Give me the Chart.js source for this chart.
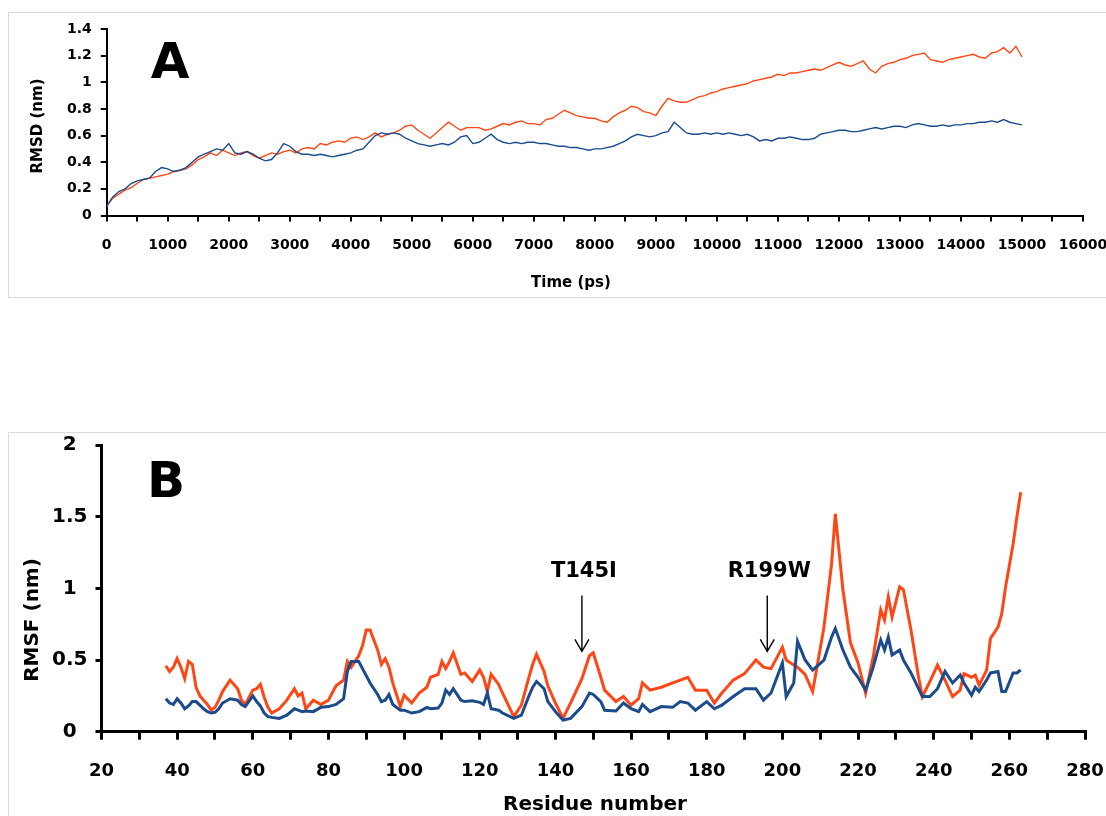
<!DOCTYPE html>
<html>
<head>
<meta charset="utf-8">
<script src="https://cdn.jsdelivr.net/npm/chart.js@4.4.1/dist/chart.umd.min.js"></script>
<style>
  html, body { margin: 0; padding: 0; background: #fff; overflow: hidden; }
  body { width: 1106px; height: 816px; position: relative; }
  .frame { position: absolute; border: 1px solid #dcdcdc; }
  canvas { position: absolute; left: 0; }
</style>
</head>
<body>
<div class="frame" style="left:8px; top:12px; width:1200px; height:284px"></div>
<div class="frame" style="left:8px; top:432px; width:1200px; height:500px"></div>
<canvas id="rmsd" width="1140" height="300" style="top:0"></canvas>
<canvas id="rmsf" width="1140" height="384" style="top:432px"></canvas>
<script>
// panel A: RMSD (nm) sampled every 100 ps, 0..15000
const timeStep = 100
const rmsdOrange = [
  0.07, 0.13, 0.16, 0.19, 0.21, 0.24, 0.27, 0.28, 0.29, 0.30,
  0.31, 0.33, 0.34, 0.35, 0.38, 0.42, 0.44, 0.47, 0.45, 0.49,
  0.47, 0.45, 0.47, 0.48, 0.45, 0.43, 0.45, 0.47, 0.46, 0.48,
  0.49, 0.47, 0.50, 0.51, 0.50, 0.54, 0.53, 0.55, 0.56, 0.55,
  0.58, 0.59, 0.57, 0.59, 0.62, 0.59, 0.61, 0.62, 0.64, 0.67,
  0.68, 0.64, 0.61, 0.58, 0.62, 0.66, 0.70, 0.67, 0.64, 0.66,
  0.66, 0.66, 0.64, 0.65, 0.67, 0.69, 0.68, 0.70, 0.71, 0.69,
  0.69, 0.68, 0.72, 0.73, 0.76, 0.79, 0.77, 0.75, 0.74, 0.73,
  0.73, 0.71, 0.70, 0.74, 0.77, 0.79, 0.82, 0.81, 0.78, 0.77,
  0.75, 0.82, 0.88, 0.86, 0.85, 0.85, 0.87, 0.89, 0.90, 0.92,
  0.93, 0.95, 0.96, 0.97, 0.98, 0.99, 1.01, 1.02, 1.03, 1.04,
  1.06, 1.05, 1.07, 1.07, 1.08, 1.09, 1.10, 1.09, 1.11, 1.13,
  1.15, 1.13, 1.12, 1.14, 1.16, 1.10, 1.07, 1.12, 1.14, 1.15,
  1.17, 1.18, 1.20, 1.21, 1.22, 1.17, 1.16, 1.15, 1.17, 1.18,
  1.19, 1.20, 1.21, 1.19, 1.18, 1.22, 1.23, 1.26, 1.22, 1.27,
  1.19
]
const rmsdBlue = [
  0.07, 0.14, 0.18, 0.20, 0.24, 0.26, 0.27, 0.28, 0.33, 0.36,
  0.35, 0.33, 0.34, 0.36, 0.40, 0.44, 0.46, 0.48, 0.50, 0.49,
  0.54, 0.47, 0.46, 0.48, 0.46, 0.43, 0.41, 0.42, 0.47, 0.54,
  0.52, 0.48, 0.46, 0.46, 0.45, 0.46, 0.45, 0.44, 0.45, 0.46,
  0.47, 0.49, 0.50, 0.55, 0.60, 0.62, 0.61, 0.62, 0.61, 0.58,
  0.56, 0.54, 0.53, 0.52, 0.53, 0.54, 0.53, 0.55, 0.59, 0.60,
  0.54, 0.55, 0.58, 0.61, 0.57, 0.55, 0.54, 0.55, 0.54, 0.55,
  0.55, 0.54, 0.54, 0.53, 0.52, 0.52, 0.51, 0.51, 0.50, 0.49,
  0.50, 0.50, 0.51, 0.52, 0.54, 0.56, 0.59, 0.61, 0.60, 0.59,
  0.60, 0.62, 0.63, 0.70, 0.66, 0.62, 0.61, 0.61, 0.62, 0.61,
  0.62, 0.61, 0.62, 0.61, 0.60, 0.61, 0.59, 0.56, 0.57, 0.56,
  0.58, 0.58, 0.59, 0.58, 0.57, 0.57, 0.58, 0.61, 0.62, 0.63,
  0.64, 0.64, 0.63, 0.63, 0.64, 0.65, 0.66, 0.65, 0.66, 0.67,
  0.67, 0.66, 0.68, 0.69, 0.68, 0.67, 0.67, 0.68, 0.67, 0.68,
  0.68, 0.69, 0.69, 0.70, 0.70, 0.71, 0.70, 0.72, 0.70, 0.69,
  0.68
]
const times = rmsdOrange.map((v, i) => i * timeStep)

// panel B: RMSF (nm) per residue
const residues = [
  37, 38, 39, 40, 41, 42, 43, 44, 45, 46, 47, 48, 49, 50, 51, 52, 54, 56, 57, 58,
  60, 61, 62, 63, 64, 65, 67, 69, 71, 72, 73, 74, 76, 78, 80, 82, 84, 85, 86, 88,
  89, 90, 91, 93, 94, 95, 96, 97, 99, 100, 102, 104, 106, 107, 109, 110, 111, 112, 113, 115,
  116, 118, 120, 121, 122, 123, 125, 126, 129, 131, 133, 134, 135, 137, 138, 140, 142, 144, 147, 149,
  150, 152, 153, 156, 158, 160, 162, 163, 165, 168, 171, 173, 175, 177, 180, 182, 184, 187, 190, 193,
  195, 197, 200, 201, 203, 204, 206, 208, 211, 213, 214, 216, 218, 220, 222, 224, 226, 227, 228, 229,
  231, 232, 234, 236, 237, 239, 241, 243, 245, 247, 248, 250, 251, 252, 254, 255, 257, 258, 259, 261,
  262, 263
]
const rmsfOrange = [
  0.46, 0.42, 0.45, 0.51, 0.45, 0.37, 0.49, 0.47, 0.31, 0.25, 0.22, 0.19, 0.15, 0.17, 0.22, 0.28, 0.36, 0.30, 0.22, 0.19,
  0.29, 0.30, 0.33, 0.24, 0.17, 0.13, 0.16, 0.22, 0.30, 0.25, 0.27, 0.16, 0.22, 0.19, 0.22, 0.32, 0.36, 0.49, 0.45, 0.53,
  0.60, 0.71, 0.71, 0.57, 0.47, 0.51, 0.45, 0.34, 0.175, 0.255, 0.20, 0.27, 0.31, 0.38, 0.40, 0.49, 0.44, 0.49, 0.55, 0.40,
  0.41, 0.35, 0.43, 0.38, 0.28, 0.40, 0.33, 0.27, 0.105, 0.185, 0.38, 0.47, 0.54, 0.42, 0.32, 0.20, 0.093, 0.20, 0.37, 0.53,
  0.55, 0.38, 0.29, 0.21, 0.245, 0.185, 0.23, 0.34, 0.29, 0.31, 0.34, 0.36, 0.38, 0.29, 0.29, 0.20, 0.27, 0.36, 0.405, 0.50,
  0.45, 0.44, 0.59, 0.50, 0.465, 0.45, 0.40, 0.28, 0.73, 1.17, 1.52, 0.99, 0.62, 0.48, 0.27, 0.52, 0.85, 0.78, 0.94, 0.80,
  1.01, 0.99, 0.71, 0.38, 0.245, 0.35, 0.465, 0.36, 0.245, 0.29, 0.405, 0.38, 0.395, 0.325, 0.43, 0.65, 0.73, 0.825, 1.01, 1.31,
  1.50, 1.67
]
const rmsfBlue = [
  0.23, 0.20, 0.19, 0.23, 0.20, 0.16, 0.18, 0.21, 0.21, 0.185, 0.16, 0.14, 0.13, 0.135, 0.16, 0.20, 0.23, 0.22, 0.19, 0.175,
  0.25, 0.21, 0.18, 0.13, 0.105, 0.10, 0.093, 0.115, 0.16, 0.15, 0.14, 0.145, 0.14, 0.17, 0.175, 0.19, 0.23, 0.42, 0.49, 0.49,
  0.44, 0.39, 0.34, 0.26, 0.21, 0.22, 0.26, 0.19, 0.15, 0.15, 0.13, 0.14, 0.17, 0.16, 0.165, 0.20, 0.29, 0.26, 0.30, 0.22,
  0.21, 0.215, 0.205, 0.19, 0.27, 0.16, 0.15, 0.13, 0.093, 0.115, 0.25, 0.31, 0.35, 0.30, 0.21, 0.14, 0.081, 0.093, 0.175, 0.27,
  0.26, 0.21, 0.15, 0.145, 0.20, 0.16, 0.14, 0.19, 0.14, 0.175, 0.17, 0.21, 0.20, 0.15, 0.21, 0.16, 0.185, 0.245, 0.30, 0.30,
  0.22, 0.27, 0.48, 0.245, 0.34, 0.63, 0.50, 0.43, 0.50, 0.66, 0.72, 0.57, 0.45, 0.38, 0.29, 0.45, 0.64, 0.57, 0.66, 0.535,
  0.57, 0.50, 0.41, 0.30, 0.245, 0.245, 0.30, 0.42, 0.34, 0.395, 0.34, 0.255, 0.31, 0.28, 0.36, 0.41, 0.42, 0.28, 0.28, 0.41,
  0.41, 0.43
]

// arrows in panel B
const mutationLabels = ['T145I', 'R199W']
const mutationResidues = [147, 196]
const arrowTop = 0.95
const arrowTip = 0.56
const mutationLabelY = 1.115

const ORANGE = '#ff4716'
const BLUE = '#1b4b8a'
const FONT = 'DejaVu Sans'

const panelText = {
  id: 'panelText',
  afterDraw(chart, args, opts) {
    const ctx = chart.ctx
    ctx.save()
    ctx.fillStyle = '#000'
    ctx.strokeStyle = '#000'
    ctx.textAlign = 'center'
    ctx.textBaseline = 'middle'
    for (const t of opts.labels || []) {
      ctx.font = t.font
      ctx.save()
      ctx.translate(t.x, t.y)
      if (t.rotate) ctx.rotate(t.rotate)
      ctx.fillText(t.text, 0, 0)
      ctx.restore()
    }
    if (opts.arrows) {
      const xs = chart.scales.x
      const ys = chart.scales.y
      ctx.font = 'bold 21px ' + FONT
      ctx.lineWidth = 1.4
      mutationLabels.forEach((label, i) => {
        const x = xs.getPixelForValue(mutationResidues[i])
        ctx.fillText(label, x + 2, ys.getPixelForValue(mutationLabelY))
        const y0 = ys.getPixelForValue(arrowTop)
        const y1 = ys.getPixelForValue(arrowTip)
        ctx.beginPath()
        ctx.moveTo(x, y0)
        ctx.lineTo(x, y1)
        ctx.moveTo(x - 7, y1 - 12)
        ctx.lineTo(x, y1)
        ctx.lineTo(x + 7, y1 - 12)
        ctx.stroke()
      })
    }
    ctx.restore()
  }
}

function axisStyle(width, tickLen) {
  return {
    grid: { drawOnChartArea: false, drawTicks: true, tickLength: tickLen, color: '#000', lineWidth: width },
    border: { display: true, color: '#000', width: width }
  }
}

// fixed axis box sizes so the plot areas sit where they do in the figure
function fixWidth(w) {
  return (s) => { s.width = w; s.paddingTop = 0; s.paddingBottom = 0 }
}
function fixHeight(h) {
  return (s) => { s.height = h; s.paddingLeft = 0; s.paddingRight = 0 }
}

new Chart(document.getElementById('rmsd'), {
  type: 'line',
  data: {
    datasets: [
      {
        data: times.map((t, i) => ({ x: t, y: rmsdBlue[i] })),
        borderColor: BLUE, borderWidth: 1.4, pointRadius: 0
      },
      {
        data: times.map((t, i) => ({ x: t, y: rmsdOrange[i] })),
        borderColor: ORANGE, borderWidth: 1.4, pointRadius: 0
      }
    ]
  },
  options: {
    responsive: false,
    animation: false,
    layout: { padding: { left: 10, top: 29, right: 57, bottom: 0 } },
    plugins: {
      legend: { display: false },
      tooltip: { enabled: false },
      panelText: {
        labels: [
          { text: 'A', x: 170, y: 65, font: 'bold 50px ' + FONT },
          { text: 'RMSD (nm)', x: 38, y: 126, rotate: -Math.PI / 2, font: 'bold 15px ' + FONT },
          { text: 'Time (ps)', x: 571, y: 283, font: 'bold 15px ' + FONT }
        ]
      }
    },
    scales: {
      x: {
        type: 'linear', min: 0, max: 16000,
        afterFit: fixHeight(84.5),
        ticks: {
          stepSize: 500, autoSkip: false, maxRotation: 0, color: '#000', padding: 15,
          font: { family: FONT, weight: 'bold', size: 14 },
          callback: (v) => (v % 1000 === 0 ? String(v) : '')
        },
        ...axisStyle(2, 6)
      },
      y: {
        min: 0, max: 1.4,
        afterFit: fixWidth(96.7),
        ticks: {
          stepSize: 0.2, color: '#000', padding: 9,
          font: { family: FONT, weight: 'bold', size: 14 },
          callback: (v) => String(+v.toFixed(1))
        },
        ...axisStyle(2, 6)
      }
    }
  },
  plugins: [panelText]
})

new Chart(document.getElementById('rmsf'), {
  type: 'line',
  data: {
    datasets: [
      {
        data: residues.map((r, i) => ({ x: r, y: rmsfBlue[i] })),
        borderColor: BLUE, borderWidth: 3, pointRadius: 0
      },
      {
        data: residues.map((r, i) => ({ x: r, y: rmsfOrange[i] })),
        borderColor: ORANGE, borderWidth: 3, pointRadius: 0
      }
    ]
  },
  options: {
    responsive: false,
    animation: false,
    layout: { padding: { left: 10, top: 13, right: 55, bottom: 0 } },
    plugins: {
      legend: { display: false },
      tooltip: { enabled: false },
      panelText: {
        arrows: true,
        labels: [
          { text: 'B', x: 166, y: 52, font: 'bold 50px ' + FONT },
          { text: 'RMSF (nm)', x: 33, y: 188, rotate: -Math.PI / 2, font: 'bold 20px ' + FONT },
          { text: 'Residue number', x: 595, y: 373, font: 'bold 20px ' + FONT }
        ]
      }
    },
    scales: {
      x: {
        type: 'linear', min: 20, max: 280,
        afterFit: fixHeight(84.3),
        ticks: {
          stepSize: 10, autoSkip: false, maxRotation: 0, color: '#000', padding: 21,
          font: { family: FONT, weight: 'bold', size: 18 },
          callback: (v) => (v % 20 === 0 ? String(v) : '')
        },
        ...axisStyle(3, 8)
      },
      y: {
        min: 0, max: 2,
        afterFit: fixWidth(91.5),
        ticks: {
          stepSize: 0.5, color: '#000', padding: 8, crossAlign: 'center',
          font: { family: FONT, weight: 'bold', size: 20 },
          callback: (v) => String(+v.toFixed(1))
        },
        ...axisStyle(3, 6)
      }
    }
  },
  plugins: [panelText]
})
</script>
</body>
</html>
